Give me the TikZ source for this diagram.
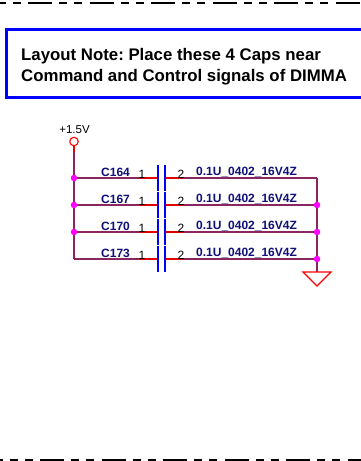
\documentclass[tikz,border=0pt]{standalone}
\usepackage{fontspec}
\setmainfont{Liberation Sans}
\frenchspacing
\definecolor{wirec}{HTML}{8A2560}
\definecolor{lblc}{HTML}{10107A}
\definecolor{junc}{HTML}{FF00FF}
\tikzset{
  x=1pt,y=-1pt,
  wire/.style={draw=wirec,line width=1.1pt},
  pin/.style={draw=red!90!black,line width=1.1pt},
  plate/.style={draw=blue,line width=1.8pt},
  junction/.style={circle,fill=junc,inner sep=0pt,minimum size=6.5pt},
  reflabel/.style={text=lblc,font=\fontsize{12}{14}\selectfont\bfseries,anchor=base west,inner sep=0pt},
  pinlabel/.style={text=black,font=\fontsize{12}{14}\selectfont,anchor=base,inner sep=0pt},
  notetext/.style={anchor=base west,inner sep=0pt,font=\fontsize{16.8}{20}\selectfont\bfseries},
  border/.style={draw=black,line width=1.2pt,dash pattern=on 24pt off 7pt on 8pt off 7pt on 8pt off 7.5pt},
}
\begin{document}
\begin{tikzpicture}
\useasboundingbox (0,0) rectangle (361,461);
\fill[white] (0,0) rectangle (361,461);
% sheet border
\coordinate (tl) at (-33.5,3);\coordinate (tr) at (361,3);
\coordinate (bl) at (-21.5,460);\coordinate (br) at (361,460);
\begin{scope}
\clip (0,0) rectangle (361,461);
\draw[border] (tl) -- (tr);
\draw[border] (bl) -- (br);
\draw[draw=blue,line width=3pt] (370,29.5) -- (6.5,29.5) -- (6.5,97) -- (370,97);
\end{scope}
\node[notetext] (note1) at (21,60) {Layout Note: Place these 4 Caps near};
\node[notetext] (note2) at (21,81) {Command and Control signals of DIMMA};
% power
\node[circle,draw=red,line width=1.1pt,fill=white,inner sep=0pt,minimum size=8.5pt] (vcc) at (74,141.5) {};
\node[anchor=base,inner sep=0pt,text=black,font=\fontsize{11.5}{14}\selectfont] (vlab) at (74.5,133) {+1.5V};
\foreach \n/\y/\r in {a/178/C164,b/205/C167,c/232/C170,d/259/C173}{
  \coordinate (L\n) at (74,\y);
  \coordinate (R\n) at (317,\y);
  \coordinate (P\n) at (158,\y);
  \coordinate (Q\n) at (165,\y);
  \coordinate (pl\n) at (140,\y);
  \coordinate (pr\n) at (183,\y);
  \draw[wire] (L\n) -- (pl\n);
  \draw[pin] (pl\n) -- (P\n);
  \draw[pin] (Q\n) -- (pr\n);
  \draw[wire] (pr\n) -- (R\n);
  \draw[plate] ([yshift=-13pt]P\n) -- ([yshift=13pt]P\n);
  \draw[plate] ([yshift=-13pt]Q\n) -- ([yshift=13pt]Q\n);
  \node[reflabel] (ref\n) at (101,\y-2) {\r};
  \node[pinlabel] (one\n) at (142,\y) {1};
  \node[pinlabel] (two\n) at (181,\y) {2};
  \node[reflabel] (val\n) at (196,\y-2.8) {0.1U\_0402\_16V4Z};
}
\draw[pin] (vcc) -- (74,152);
\draw[wire] (74,152) -- (Ld);
\draw[wire] (Ra) -- (Rd);
\coordinate (gt) at (317,272);
\draw[wire] (Rd) -- (gt);
\draw[draw=red,line width=1.1pt,fill=white] (303,272) -- (331,272) -- (317,286) -- cycle;
\foreach \n in {a,b,c}{\node[junction] at (L\n) {};}
\foreach \n in {b,c,d}{\node[junction] at (R\n) {};}
\end{tikzpicture}
\end{document}
